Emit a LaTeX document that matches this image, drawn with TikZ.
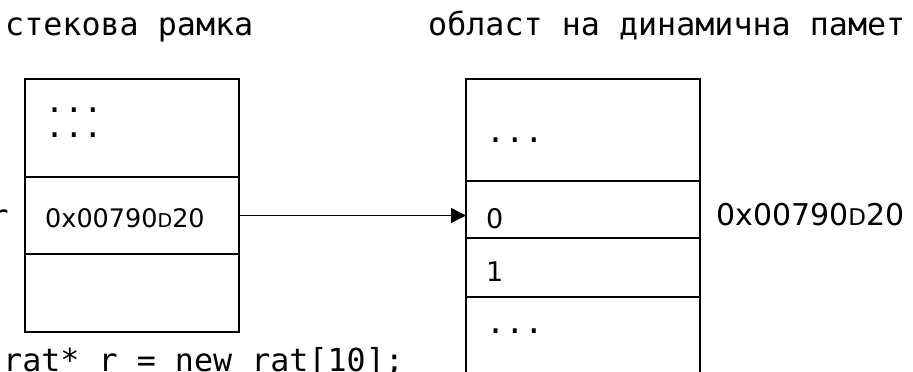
\documentclass[tikz,border=0pt]{standalone}
\usepackage{fontspec}
\setmonofont{DejaVu Sans Mono}
\setsansfont{DejaVu Sans}
\usetikzlibrary{arrows.meta}
\begin{document}
\begin{tikzpicture}[x=1pt,y=-1pt,
  cell/.style={draw,line width=1.7pt,minimum width=#1,inner sep=0pt,outer sep=0pt,rectangle},
  mono/.style={anchor=base west,inner sep=0pt,font=\fontsize{31.7}{31.7}\selectfont\ttfamily},
  hexs/.style={anchor=base west,inner sep=0pt,font=\fontsize{25.5}{25.5}\selectfont\sffamily},
  digit/.style={anchor=base west,inner sep=0pt,font=\fontsize{27}{27}\selectfont\sffamily},
  hexl/.style={anchor=base west,inner sep=0pt,font=\fontsize{30}{30}\selectfont\sffamily},
  ptr/.style={line width=1.4pt,-{Triangle[length=15pt,width=15pt]}}]
\useasboundingbox (0,0) rectangle (913,372);
% stack frame cells
\node[cell=214pt,minimum height=98pt] (l1) at (132,128) {};
\node[cell=214pt,minimum height=77pt] (l2) at (132,215.5) {};
\node[cell=214pt,minimum height=78pt] (l3) at (132,293) {};
% heap cells
\node[cell=234pt,minimum height=102pt] (h1) at (583,130) {};
\node[cell=234pt,minimum height=57pt] (h2) at (583,209.5) {};
\node[cell=234pt,minimum height=59pt] (h3) at (583,267.5) {};
\node[cell=234pt,minimum height=90pt] (h4) at (583,342) {};
% texts
\node[mono] (t1) at (5,35) {стекова рамка};
\node[mono] (t2) at (428,35) {област на динамична памет};
\node[mono] (d1) at (45,112) {...};
\node[mono] (d2) at (45,137) {...};
\node[hexs] (a1) at (45,227) {0x00790{\fontsize{19}{19}\selectfont D}20};
\node[mono] (rv) at (-10.5,227) {r};
\node[mono] (code) at (3,371) {rat* r = new rat[10];};
\node[mono] (d3) at (486,142) {...};
\node[digit] (z0) at (486,228) {0};
\node[digit] (z1) at (486,281) {1};
\node[mono] (d4) at (486,333) {...};
\node[hexl] (a2) at (716,225) {0x00790{\fontsize{23}{23}\selectfont D}20};
\draw[ptr] (l2.east) -- (l2.east -| h2.west);
\end{tikzpicture}
\end{document}
